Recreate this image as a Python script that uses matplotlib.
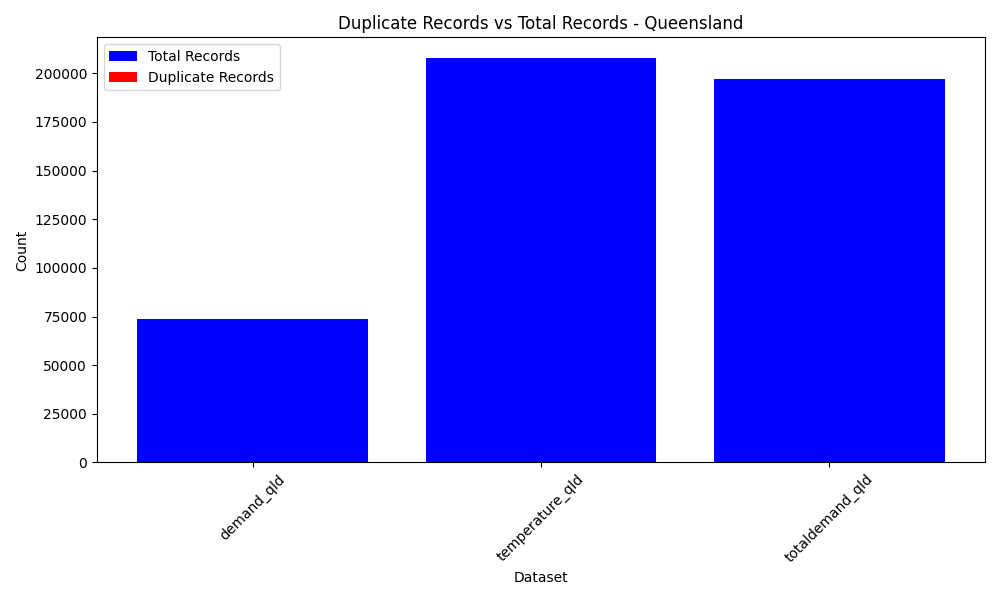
import matplotlib
matplotlib.use("Agg")
from matplotlib import pyplot as plt

datasets = ["demand_qld", "temperature_qld", "totaldemand_qld"]
total_records = [73900, 208100, 196900]
duplicate_records = [0, 0, 0]

fig, ax = plt.subplots(figsize=(10, 6))
ax.bar(datasets, total_records, color="blue", label="Total Records")
ax.bar(datasets, duplicate_records, color="red", label="Duplicate Records")
ax.set_title("Duplicate Records vs Total Records - Queensland")
ax.set_xlabel("Dataset")
ax.set_ylabel("Count")
ax.legend(loc="upper left")
plt.xticks(rotation=45)
plt.tight_layout()
plt.savefig("out.png", dpi=100)
